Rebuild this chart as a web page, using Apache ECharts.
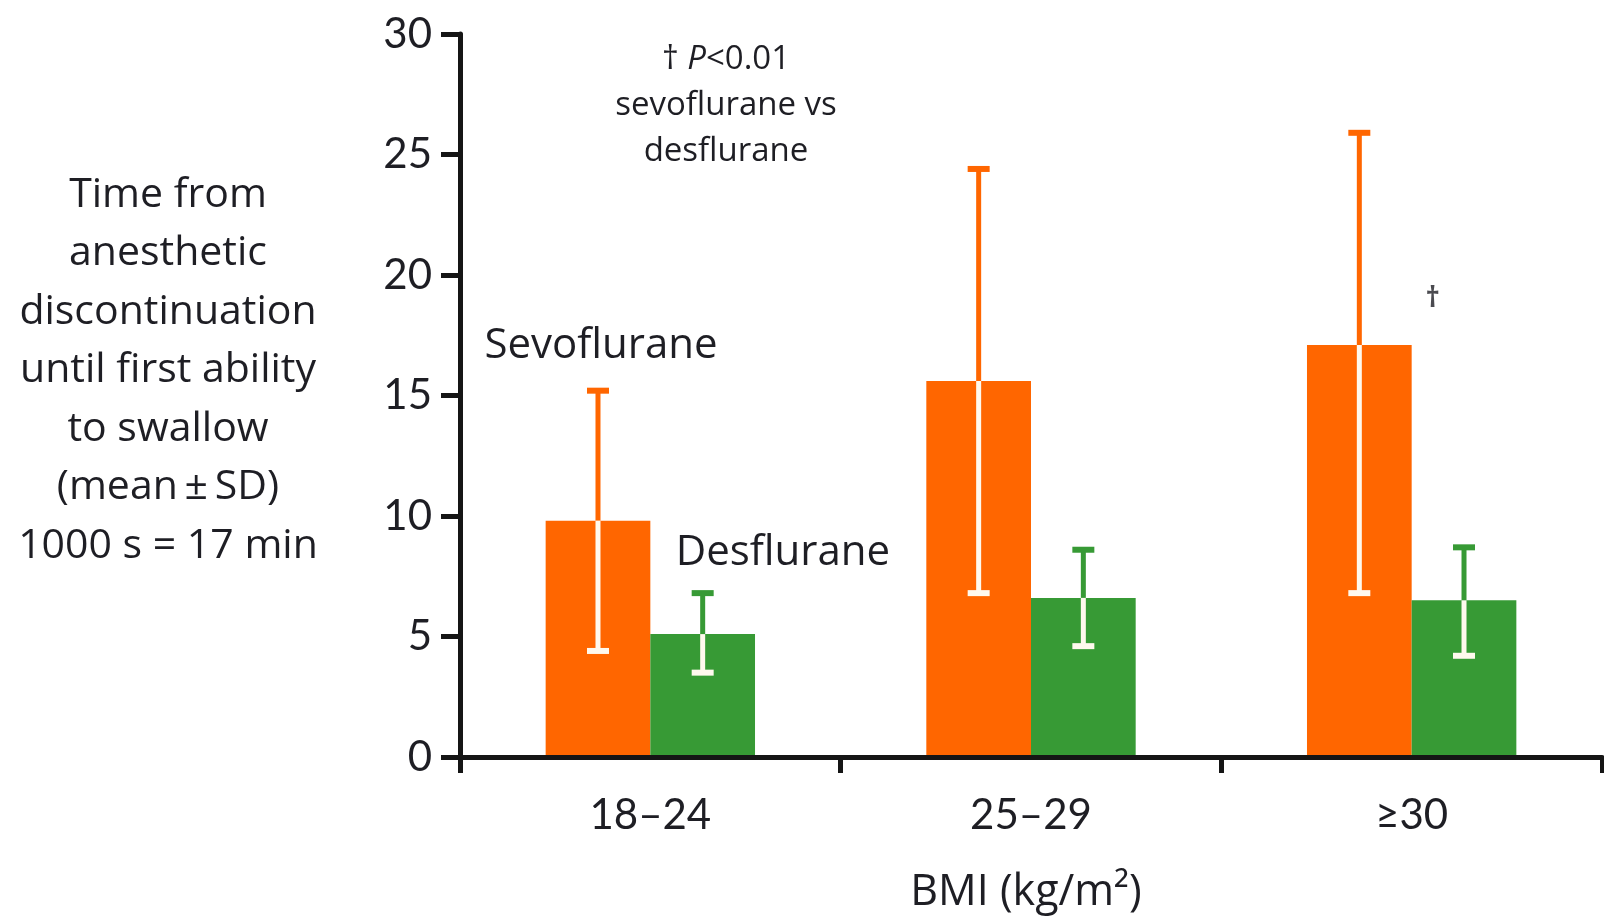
<!DOCTYPE html>
<html>
<head>
<meta charset="utf-8">
<style>
  html, body { margin: 0; padding: 0; background: #ffffff; }
  #chart { width: 1604px; height: 919px; }
</style>
<script src="https://cdn.jsdelivr.net/npm/echarts@6/dist/echarts.min.js"></script>
</head>
<body>
<div id="chart"></div>
<script>
// BMI groups on the x axis
const categories = ['18–24', '25–29', '≥30'];

// Sevoflurane: mean and the ends of the SD bar (minutes)
const sevoMean = [9.8, 15.6, 17.1];
const sevoLow  = [4.4, 6.8, 6.8];
const sevoHigh = [15.2, 24.4, 25.9];

// Desflurane: mean and the ends of the SD bar (minutes)
const desMean = [5.1, 6.6, 6.5];
const desLow  = [3.5, 4.6, 4.2];
const desHigh = [6.8, 8.6, 8.7];

// y axis ticks
const yTicks = [0, 5, 10, 15, 20, 25, 30];

// significance marker (†) above the ≥30 group
const sigCategory = '≥30';
const sigLevel = 19;

const ORANGE = '#ff6600';
const GREEN = '#379a35';
const INNER = '#fff9ee';
const INK = '#1e1e24';
const NUM_FONT = 'Lato, "Open Sans", sans-serif';
const TXT_FONT = '"Open Sans", Lato, sans-serif';
const BAR_GAP_CAT = 0.45;

// error bar drawn over its bar: outside part in the bar colour, inside part light
function errorSeries(name, groupIndex, color, mean, low, high) {
  const data = categories.map((c, i) => [i, low[i], high[i], mean[i]]);
  return {
    name: name + ' SD',
    type: 'custom',
    z: 5,
    data: data,
    encode: { x: 0, y: [1, 2] },
    renderItem: function (params, api) {
      const cat = api.value(0);
      const band = api.size([1, 0])[0];
      const barW = band * (1 - BAR_GAP_CAT) / 2;
      const dx = (groupIndex - 0.5) * barW;
      const pLow = api.coord([cat, api.value(1)]);
      const pHigh = api.coord([cat, api.value(2)]);
      const pMean = api.coord([cat, api.value(3)]);
      const x = pMean[0] + dx;
      const capW = 22;
      const lw = 5;
      return {
        type: 'group',
        children: [
          { type: 'line', shape: { x1: x, y1: pMean[1], x2: x, y2: pHigh[1] },
            style: { stroke: color, lineWidth: lw } },
          { type: 'line', shape: { x1: x - capW / 2, y1: pHigh[1], x2: x + capW / 2, y2: pHigh[1] },
            style: { stroke: color, lineWidth: 6 } },
          { type: 'line', shape: { x1: x, y1: pMean[1], x2: x, y2: pLow[1] },
            style: { stroke: INNER, lineWidth: lw } },
          { type: 'line', shape: { x1: x - capW / 2, y1: pLow[1], x2: x + capW / 2, y2: pLow[1] },
            style: { stroke: INNER, lineWidth: 6 } }
        ]
      };
    }
  };
}

const chart = echarts.init(document.getElementById('chart'), null, { renderer: 'canvas' });

chart.setOption({
  backgroundColor: '#ffffff',
  animation: false,
  grid: { left: 460, right: 2, top: 34, bottom: 159, containLabel: false },
  xAxis: {
    type: 'category',
    data: categories,
    z: 10,
    name: 'BMI (kg/m²)',
    nameLocation: 'middle',
    nameGap: 114,
    nameTextStyle: { fontFamily: TXT_FONT, fontSize: 43, color: INK, padding: [0, 10, 0, 0] },
    axisLine: { show: true, lineStyle: { color: '#151515', width: 5 } },
    axisTick: { show: true, length: 16, interval: 0, lineStyle: { color: '#151515', width: 5 } },
    axisLabel: { fontFamily: NUM_FONT, fontSize: 42, color: INK, margin: 37 },
    splitLine: { show: false }
  },
  yAxis: {
    type: 'value',
    min: yTicks[0],
    max: yTicks[yTicks.length - 1],
    interval: yTicks[1] - yTicks[0],
    z: 10,
    axisLine: { show: true, lineStyle: { color: '#151515', width: 5 } },
    axisTick: { show: true, length: 19, lineStyle: { color: '#151515', width: 5 } },
    axisLabel: { fontFamily: NUM_FONT, fontSize: 42, color: INK, margin: 28 },
    splitLine: { show: false }
  },
  series: [
    {
      name: 'Sevoflurane',
      type: 'bar',
      data: sevoMean,
      barGap: '0%',
      barCategoryGap: (BAR_GAP_CAT * 100) + '%',
      itemStyle: { color: ORANGE },
      z: 2
    },
    {
      name: 'Desflurane',
      type: 'bar',
      data: desMean,
      barGap: '0%',
      barCategoryGap: (BAR_GAP_CAT * 100) + '%',
      itemStyle: { color: GREEN },
      z: 2
    },
    errorSeries('Sevoflurane', 0, ORANGE, sevoMean, sevoLow, sevoHigh),
    errorSeries('Desflurane', 1, GREEN, desMean, desLow, desHigh),
    {
      name: 'significance',
      type: 'scatter',
      data: [[sigCategory, sigLevel]],
      symbolSize: 0,
      silent: true,
      z: 6,
      label: {
        show: true,
        position: 'inside',
        formatter: '†',
        offset: [21, 0],
        fontFamily: TXT_FONT,
        fontSize: 28,
        fontWeight: 'bold',
        color: INK
      }
    }
  ],
  graphic: [
    {
      type: 'text',
      x: 168,
      y: 166,
      style: {
        text: 'Time from\nanesthetic\ndiscontinuation\nuntil first ability\nto swallow\n(mean\u2009\u00b1\u2009SD)\n1000 s = 17 min',
        fontFamily: TXT_FONT,
        fontSize: 41,
        lineHeight: 58.5,
        fill: INK,
        align: 'center',
        verticalAlign: 'top'
      }
    },
    {
      type: 'text',
      x: 726,
      y: 37,
      style: {
        text: '{n|† }{i|P}{n|<0.01}\n{n|sevoflurane vs}\n{n|desflurane}',
        align: 'center',
        verticalAlign: 'top',
        fill: INK,
        rich: {
          n: { fontFamily: TXT_FONT, fontSize: 33, lineHeight: 46, fill: INK },
          i: { fontFamily: TXT_FONT, fontSize: 33, lineHeight: 46, fontStyle: 'italic', fill: INK }
        }
      }
    },
    {
      type: 'text',
      x: 601,
      y: 346,
      style: {
        text: 'Sevoflurane',
        fontFamily: TXT_FONT,
        fontSize: 42,
        fill: INK,
        align: 'center',
        verticalAlign: 'middle'
      }
    },
    {
      type: 'text',
      x: 783,
      y: 553,
      style: {
        text: 'Desflurane',
        fontFamily: TXT_FONT,
        fontSize: 42,
        fill: INK,
        align: 'center',
        verticalAlign: 'middle'
      }
    }
  ]
});
</script>
</body>
</html>
